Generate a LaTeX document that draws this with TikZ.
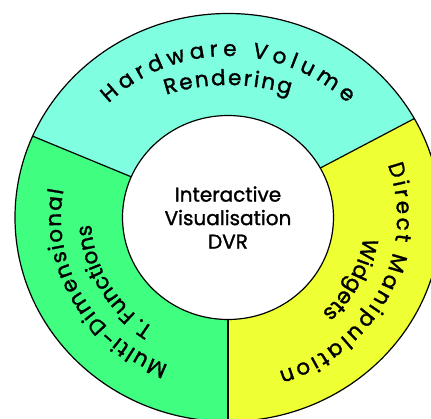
\documentclass[tikz,border=0pt]{standalone}
\usepackage{fontspec}
\setmainfont{Poppins}[FakeBold=1.4]
\usetikzlibrary{decorations.text}
\definecolor{ringcyan}{HTML}{80FFE0}
\definecolor{ringgreen}{HTML}{40FF80}
\definecolor{ringyellow}{HTML}{EEFF33}
\newcommand{\ringtextfont}{\fontsize{21.5}{25}\selectfont}
\begin{document}
\begin{tikzpicture}[x=1pt,y=1pt,
  outline/.style={draw=black,line width=1.2pt},
  fittext/.style={decorate,decoration={text along path,text align=fit to path}},
  centertext/.style={decorate,decoration={text along path,text align=center}},
  sector/.style={fill=#1}
]
\useasboundingbox (-228,-201.5) rectangle (203,217.5);
\clip (-228,-201.5) rectangle (203,217.5);
% coordinates of the dividers
\coordinate (rin)  at (29:105.5pt and 102pt);
\coordinate (rout) at (29:213pt and 204pt);
\coordinate (lin)  at (156.5:105.5pt and 102pt);
\coordinate (lout) at (156.5:213pt and 204pt);
\coordinate (bin)  at (270:105.5pt and 102pt);
\coordinate (bout) at (270:213pt and 204pt);
% sectors
\path[sector=ringcyan] (rout) arc[start angle=29,end angle=156.5,x radius=213pt,y radius=204pt]
  -- (lin) arc[start angle=156.5,end angle=29,x radius=105.5pt,y radius=102pt] -- cycle;
\path[sector=ringgreen] (lout) arc[start angle=156.5,end angle=270,x radius=213pt,y radius=204pt]
  -- (bin) arc[start angle=270,end angle=156.5,x radius=105.5pt,y radius=102pt] -- cycle;
\path[sector=ringyellow] (bout) arc[start angle=-90,end angle=29,x radius=213pt,y radius=204pt]
  -- (rin) arc[start angle=29,end angle=-90,x radius=105.5pt,y radius=102pt] -- cycle;
% outlines
\draw[outline] (0,0) ellipse[x radius=213pt,y radius=204pt];
\draw[outline,fill=white] (0,0) ellipse[x radius=105.5pt,y radius=102pt];
\draw[outline] (rin) -- (rout);
\draw[outline] (lin) -- (lout);
\draw[outline] (bin) -- (bout);
% ring texts
\path[fittext,decoration={text={|\ringtextfont|Hardware Volume}}]
  (135:169pt and 161.5pt) arc[start angle=135,end angle=45,x radius=169pt,y radius=161.5pt];
\path[fittext,decoration={text={|\ringtextfont|Rendering}}]
  (-61.8,122.7) arc[start angle=108,end angle=72,radius=200pt];
\path[fittext,decoration={text={|\ringtextfont|Direct Manipulation}}]
  (19:169pt and 161.5pt) arc[start angle=19,end angle=-72.5,x radius=169pt,y radius=161.5pt];
\path[centertext,decoration={text={|\ringtextfont|Widgets}}]
  (33:137pt and 131pt) arc[start angle=33,end angle=-87,x radius=137pt,y radius=131pt];
\path[fittext,decoration={text={|\ringtextfont|Multi-Dimensional}}]
  (249:167pt and 158pt) arc[start angle=249,end angle=170,x radius=167pt,y radius=158pt];
\path[centertext,decoration={text={|\ringtextfont|T. Functions}}]
  (269.5:137pt and 131pt) arc[start angle=269.5,end angle=149.5,x radius=137pt,y radius=131pt];
% centre
\node[align=center,font=\fontsize{20}{23.5}\selectfont] (centre) at (0,0)
  {Interactive\\Visualisation\\DVR};
\end{tikzpicture}
\end{document}
